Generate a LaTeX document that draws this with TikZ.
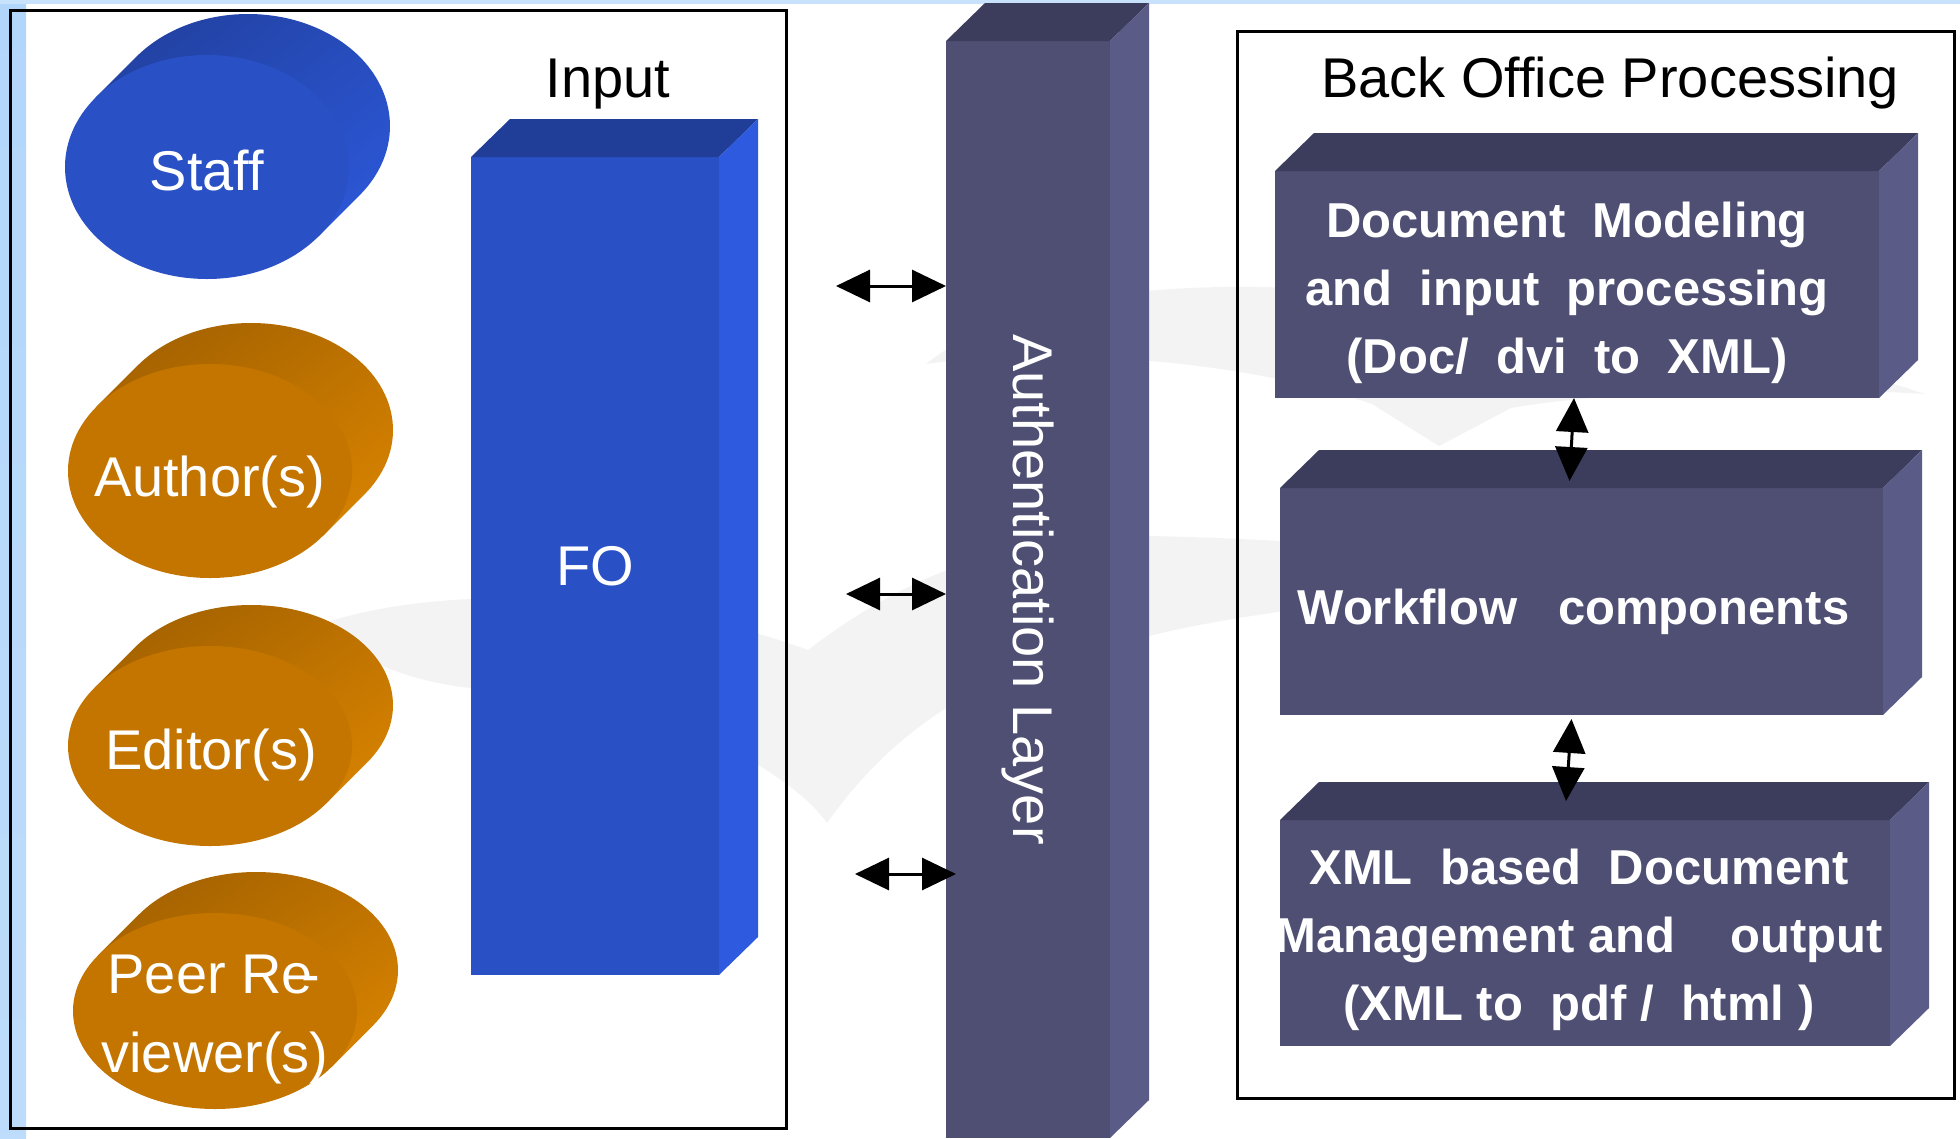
\documentclass[tikz,border=0pt]{standalone}
\usepackage{fontspec}
\setmainfont{Liberation Sans}
\usetikzlibrary{arrows.meta,shadings}

\definecolor{blueF}{RGB}{41,80,196}
\definecolor{blueT}{RGB}{32,61,152}
\definecolor{blueS}{RGB}{45,90,222}
\definecolor{orF}{RGB}{196,117,0}
\definecolor{orL}{RGB}{222,135,0}
\definecolor{orD}{RGB}{155,92,0}
\definecolor{slF}{RGB}{78,79,115}
\definecolor{slT}{RGB}{60,61,92}
\definecolor{slS}{RGB}{90,91,135}
\definecolor{wm}{RGB}{243,243,243}
\definecolor{strip}{RGB}{178,214,250}

% disc: x, y, rx, ry, light, dark, front
\newcommand{\disc}[7]{%
  \pgfmathsetmacro\tang{atan(#4/#3)}%
  \shade[upper left=#6, upper right=#6!50!#5, lower left=#6!50!#5, lower right=#5]
    (#1,#2) ++(\tang:#3 and #4) -- ++(41,-41)
    arc[start angle=\tang, end angle=\tang-180, x radius=#3, y radius=#4]
    -- ++(-41,41) -- cycle;
  \fill[#7] (#1,#2) ellipse[x radius=#3, y radius=#4];
}

\begin{document}
\begin{tikzpicture}[x=1pt, y=-1pt,
    lbl/.style={text=white, inner sep=0pt, font=\fontsize{56}{64}\selectfont},
    boxtxt/.style={text=white, inner sep=0pt, align=center, font=\bfseries\fontsize{49}{68}\selectfont},
    face/.style={inner sep=0pt, outer sep=0pt},
    dbl/.style={{Triangle[length=34pt,width=32pt]}-{Triangle[length=34pt,width=32pt]}, line width=3pt},
    frame/.style={line width=3pt}]
  \useasboundingbox (0,0) rectangle (1960,1138);
  \fill[white] (0,0) rectangle (1960,1138);
  % watermark
  \fill[wm] (926,364) .. controls (1000,305) and (1120,285) .. (1260,287)
    .. controls (1500,292) and (1780,345) .. (1925,394)
    .. controls (1780,385) and (1600,392) .. (1511,408) -- (1439,446) -- (1372,404)
    .. controls (1250,362) and (1060,345) .. cycle;
  \fill[wm] (319,625) .. controls (400,595) and (600,575) .. (808,650)
    .. controls (900,580) and (1000,535) .. (1149,536)
    .. controls (1350,540) and (1500,560) .. (1600,575)
    .. controls (1450,590) and (1250,610) .. (1149,636)
    .. controls (1000,660) and (900,720) .. (827,823)
    .. controls (790,770) and (650,690) .. (470,688)
    .. controls (400,680) and (350,655) .. cycle;
  % slide edges
  \shade[top color=strip, middle color=white, bottom color=strip!85] (0,0) rectangle (26,1138);
  \fill[strip!70] (0,0) rectangle (1960,4);
  \draw[frame] (10,10) rectangle (786,1128);
  \draw[frame] (1237,31) rectangle (1954,1098);

  % actors
  \disc{207}{167}{142}{112}{blueS}{blueT}{blueF}
  \disc{210}{471}{142}{107}{orL}{orD}{orF}
  \disc{210}{746}{142}{100}{orL}{orD}{orF}
  \disc{215}{1011}{142}{98}{orL}{orD}{orF}
  \node[lbl, anchor=base] (staff) at (207,190) {Staff};
  \node[lbl, anchor=base] (author) at (210,496) {Author(s)};
  \node[lbl, anchor=base] (editor) at (211,769) {Editor(s)};
  \node[lbl, anchor=base] (peer) at (214,993) {Peer Re\kern-.2em-};
  \node[lbl, anchor=base] (viewer) at (215,1072) {viewer(s)};

  % front faces
  \node[face, lbl, fill=blueF, minimum width=248pt, minimum height=818pt] (fo) at (595,566) {FO};
  \node[face, fill=slF, minimum width=164pt, minimum height=1097pt] (auth) at (1028,589.5) {};
  \node[face, fill=slF, minimum width=604pt, minimum height=227pt] (model) at (1577,284.5) {};
  \node[face, fill=slF, minimum width=603pt, minimum height=227pt] (flow) at (1581.5,601.5) {};
  \node[face, fill=slF, minimum width=610pt, minimum height=226pt] (xml) at (1585,933) {};
  % top and side faces
  \foreach \n/\t/\s in {fo/blueT/blueS, auth/slT/slS, model/slT/slS, flow/slT/slS, xml/slT/slS}{
    \fill[\t] (\n.north west) -- ++(39,-38) -- ([shift={(39,-38)}]\n.north east) -- (\n.north east) -- cycle;
    \fill[\s] (\n.north east) -- ++(39,-38) -- ([shift={(39,-38)}]\n.south east) -- (\n.south east) -- cycle;
  }

  \node[lbl, text=black, anchor=base] (input) at (608,97) {Input};
  \node[lbl, text=black, anchor=base] (backoffice) at (1610,97) {Back Office Processing};
  \node[lbl, rotate=-90] (authtext) at (auth) {Authentication Layer};
  \node[boxtxt] (modeltext) at ([shift={(-10,8)}]model.center)
    {Document~~Modeling\\and~~input~~processing\\(Doc/~~dvi~~to~~XML)};
  \node[boxtxt] (flowtext) at ([shift={(-8,10)}]flow.center) {Workflow~~~components};
  \node[boxtxt] (xmltext) at ([shift={(-6,7)}]xml.center)
    {XML~~based~~Document\\Management and~~~~output\\(XML to~~pdf /~~html )};

  % links
  \coordinate (a1) at (836,286);
  \coordinate (a2) at (846,594);
  \coordinate (a3) at (855,874);
  \draw[dbl] (a1) -- (auth.west |- a1);
  \draw[dbl] (a2) -- (auth.west |- a2);
  \draw[dbl] (a3) -- ([xshift=10pt]auth.west |- a3);
  \draw[dbl] ([xshift=-3pt]model.south) -- ([shift={(-12,-7)}]flow.north);
  \draw[dbl] ([shift={(-10,4)}]flow.south) -- ([shift={(-19,-19)}]xml.north);
\end{tikzpicture}
\end{document}
